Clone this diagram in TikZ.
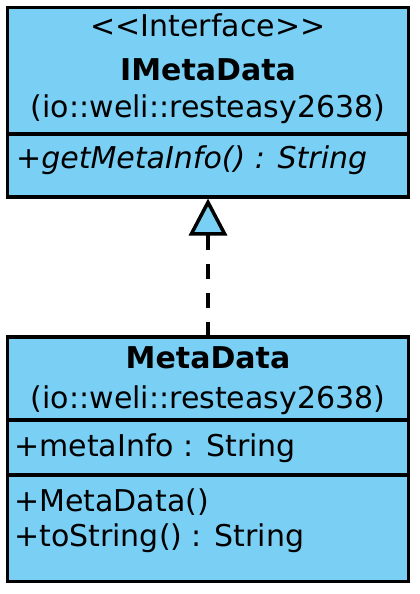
\documentclass[tikz,border=0pt]{standalone}
\usepackage{fontspec}
\setmainfont{DejaVu Sans}
\usetikzlibrary{arrows.meta}
\definecolor{umlblue}{RGB}{122,207,245}

\tikzset{
	classbox/.style={draw=black, fill=umlblue, line width=3.5pt, inner sep=0pt},
	title/.style={inner sep=0pt, anchor=base, font=\fontsize{30}{36}\selectfont},
	member/.style={inner sep=0pt, anchor=base west, font=\fontsize{30}{36}\selectfont},
	realizes/.style={line width=3.5pt, dash pattern=on 15pt off 14pt,
		-{Triangle[open, fill=umlblue, length=37pt, width=38pt, line join=miter]}}
}

\begin{document}
\begin{tikzpicture}[x=1pt,y=-1pt]
		\useasboundingbox (0,0) rectangle (420,594);
%		\draw[help lines] (0,0) grid (420,594);
		\path (7.5,7.5) coordinate (ilt);
		\path (408.5,197) coordinate (irb);
		\path (7.5,337) coordinate (clt);
		\path (408.5,581.5) coordinate (crb);

		% interface IMetaData
		\draw[classbox] (ilt) rectangle (irb);
		\draw[line width=3.5pt] (7.5,134) coordinate (isep_l) -- (408.5,134) coordinate (isep_r);
		\node[title] (istereo) at (208,37) {<\kern0pt<Interface>\kern0pt>};
		\node[title, font=\fontsize{30}{36}\selectfont\bfseries] (iname) at (208,81) {IMetaData};
		\node[title] (ipkg) at (208,117) {(io::weli::resteasy2638)};
		\node[member, font=\fontsize{30}{36}\selectfont\itshape] (iop) at (16,168) {+getMetaInfo() : String};

		% class MetaData
		\draw[classbox] (clt) rectangle (crb);
		\draw[line width=3.5pt] (7.5,420) coordinate (csep1_l) -- (408.5,420) coordinate (csep1_r);
		\draw[line width=3.5pt] (7.5,475) coordinate (csep2_l) -- (408.5,475) coordinate (csep2_r);
		\node[title, font=\fontsize{30}{36}\selectfont\bfseries] (cname) at (208,368) {MetaData};
		\node[title] (cpkg) at (208,408) {(io::weli::resteasy2638)};
		\node[member] (cattr) at (14,456) {+metaInfo : String};
		\node[member] (cctor) at (14,511) {+MetaData()};
		\node[member] (cop) at (14,546) {+toString() : String};

		% realization
		\path (208,337) coordinate (real_from);
		\path (208,198.5) coordinate (real_to);
		\draw[realizes] (real_from) -- (real_to);
	\end{tikzpicture}
\end{document}
